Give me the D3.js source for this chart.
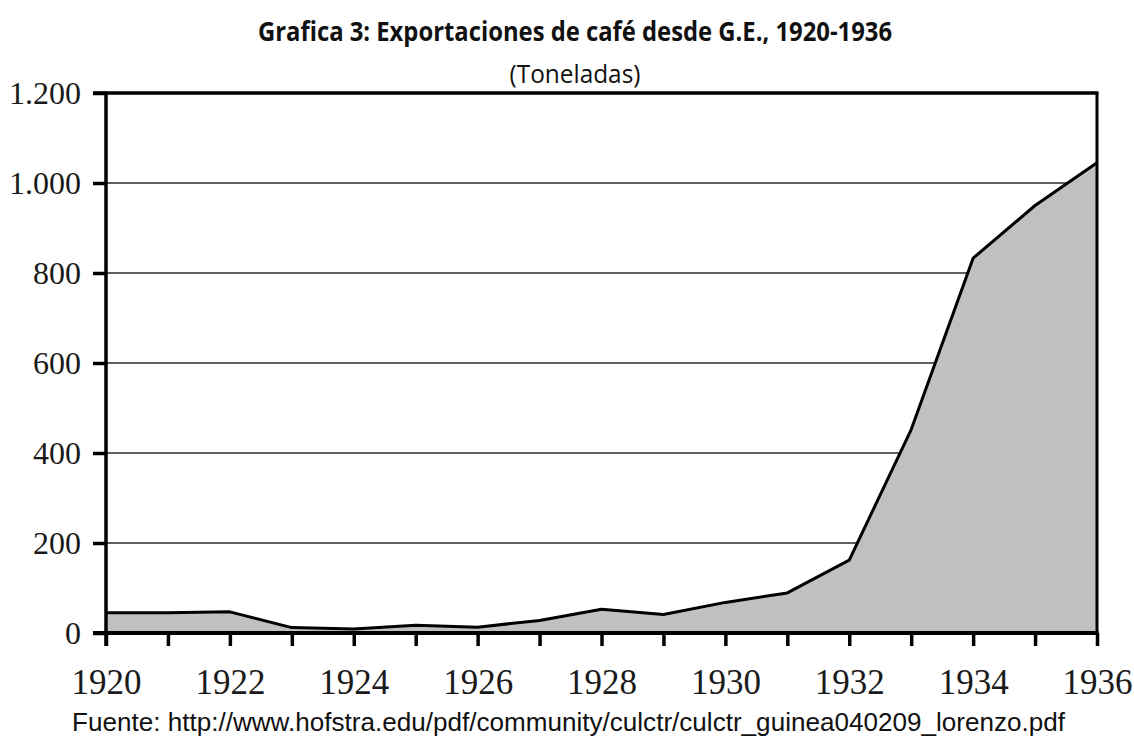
<!DOCTYPE html>
<html>
<head>
<meta charset="utf-8">
<script src="https://cdn.jsdelivr.net/npm/d3@7"></script>
<style>
  body { margin: 0; background: #fff; }
</style>
</head>
<body>
<script>
// data (toneladas)
const years = [1920, 1921, 1922, 1923, 1924, 1925, 1926, 1927, 1928,
  1929, 1930, 1931, 1932, 1933, 1934, 1935, 1936]
const exports = [45, 45, 47, 12, 9, 17, 13, 28, 53,
  41, 68, 89, 162, 452, 833, 950, 1045]
const yTicks = [0, 200, 400, 600, 800, 1000, 1200]
const xLabelYears = [1920, 1922, 1924, 1926, 1928, 1930, 1932, 1934, 1936]

const titleText = "Grafica 3: Exportaciones de café desde G.E., 1920-1936"
const subtitleText = "(Toneladas)"
const sourceText = "Fuente: http://www.hofstra.edu/pdf/community/culctr/culctr_guinea040209_lorenzo.pdf"

function drawChart() {
  const dataset = years.map((y, i) => ({ year: y, value: exports[i] }))
  const xAccessor = d => d.year
  const yAccessor = d => d.value

  let dimensions = {
    width: 1134,
    height: 742,
    margin: { top: 93, right: 37, bottom: 109, left: 106 },
  }
  dimensions.boundedWidth = dimensions.width - dimensions.margin.left - dimensions.margin.right
  dimensions.boundedHeight = dimensions.height - dimensions.margin.top - dimensions.margin.bottom

  const wrapper = d3.select("body")
    .append("svg")
      .attr("width", dimensions.width)
      .attr("height", dimensions.height)

  const bounds = wrapper.append("g")
    .attr("transform", `translate(${dimensions.margin.left},${dimensions.margin.top})`)

  // scales
  const xScale = d3.scaleLinear()
    .domain(d3.extent(years))
    .range([0, dimensions.boundedWidth])

  const yScale = d3.scaleLinear()
    .domain([0, 1200])
    .range([dimensions.boundedHeight, 0])

  // gridlines
  bounds.append("g")
    .selectAll("line")
    .data(yTicks.filter(t => t > 0 && t < 1200))
    .join("line")
      .attr("x1", 0)
      .attr("x2", dimensions.boundedWidth)
      .attr("y1", d => yScale(d))
      .attr("y2", d => yScale(d))
      .attr("stroke", "#2a2a2a")
      .attr("stroke-width", 1.7)

  // area + line
  const areaGenerator = d3.area()
    .x(d => xScale(xAccessor(d)))
    .y0(yScale(0))
    .y1(d => yScale(yAccessor(d)))

  const lineGenerator = d3.line()
    .x(d => xScale(xAccessor(d)))
    .y(d => yScale(yAccessor(d)))

  bounds.append("path")
    .datum(dataset)
    .attr("d", areaGenerator)
    .attr("fill", "#c0c0c0")

  bounds.append("path")
    .datum(dataset)
    .attr("d", lineGenerator)
    .attr("fill", "none")
    .attr("stroke", "#000")
    .attr("stroke-width", 3)
    .attr("stroke-linejoin", "round")

  // frame top + right
  bounds.append("line")
    .attr("x1", -13).attr("x2", dimensions.boundedWidth + 1.5)
    .attr("y1", yScale(1200)).attr("y2", yScale(1200))
    .attr("stroke", "#000").attr("stroke-width", 3.5)
  bounds.append("line")
    .attr("x1", dimensions.boundedWidth).attr("x2", dimensions.boundedWidth)
    .attr("y1", yScale(1200)).attr("y2", dimensions.boundedHeight)
    .attr("stroke", "#000").attr("stroke-width", 3)

  // axes
  const locale = d3.formatLocale({ decimal: ",", thousands: ".", grouping: [3], currency: ["", ""] })
  const yAxisGenerator = d3.axisLeft(yScale)
    .tickValues(yTicks)
    .tickSize(13)
    .tickPadding(12)
    .tickFormat(locale.format(",d"))

  const yAxis = bounds.append("g")
    .call(yAxisGenerator)
  yAxis.select(".domain").remove()
  yAxis.append("line")
    .attr("x1", 0).attr("x2", 0)
    .attr("y1", -1.5).attr("y2", dimensions.boundedHeight + 13)
    .attr("stroke", "#000").attr("stroke-width", 3.5)
  yAxis.selectAll(".tick line").attr("stroke", "#000").attr("stroke-width", 3.5)
  yAxis.selectAll(".tick text")
    .attr("fill", "#1a1a1a")
    .style("font-family", "'Liberation Serif', 'DejaVu Serif', serif")
    .style("font-size", "32px")

  const xAxisGenerator = d3.axisBottom(xScale)
    .tickValues(years)
    .tickSize(13)
    .tickPadding(23)
    .tickFormat(d => xLabelYears.includes(d) ? d : "")

  const xAxis = bounds.append("g")
    .attr("transform", `translate(0,${dimensions.boundedHeight})`)
    .call(xAxisGenerator)
  xAxis.select(".domain").remove()
  xAxis.append("line")
    .attr("x1", -13).attr("x2", dimensions.boundedWidth + 1.5)
    .attr("y1", 0).attr("y2", 0)
    .attr("stroke", "#000").attr("stroke-width", 4)
  xAxis.selectAll(".tick line").attr("stroke", "#000").attr("stroke-width", 3.5)
  xAxis.selectAll(".tick text")
    .attr("fill", "#1a1a1a")
    .style("font-family", "'Liberation Serif', 'DejaVu Serif', serif")
    .style("font-size", "35px")

  // titles
  wrapper.append("text")
    .attr("x", 575)
    .attr("y", 41)
    .attr("text-anchor", "middle")
    .attr("textLength", 634)
    .attr("lengthAdjust", "spacingAndGlyphs")
    .style("font-family", "'Open Sans', sans-serif")
    .style("font-weight", "bold")
    .style("font-size", "26px")
    .attr("fill", "#111")
    .text(titleText)

  wrapper.append("text")
    .attr("x", 575)
    .attr("y", 83)
    .attr("text-anchor", "middle")
    .attr("textLength", 131)
    .attr("lengthAdjust", "spacingAndGlyphs")
    .style("font-family", "'Open Sans', sans-serif")
    .style("font-size", "26px")
    .attr("fill", "#111")
    .text(subtitleText)

  wrapper.append("text")
    .attr("x", 72)
    .attr("y", 731)
    .attr("textLength", 993)
    .attr("lengthAdjust", "spacingAndGlyphs")
    .style("font-family", "'Liberation Sans Narrow', 'Liberation Sans', sans-serif")
    .style("font-size", "26px")
    .attr("fill", "#111")
    .text(sourceText)
}
drawChart()
</script>
</body>
</html>
